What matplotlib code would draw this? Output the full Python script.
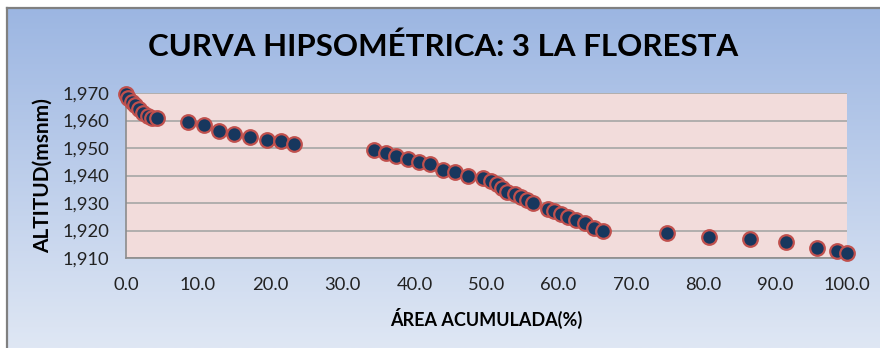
import numpy as np
import matplotlib
matplotlib.use("Agg")
import matplotlib.pyplot as plt
from matplotlib.lines import Line2D
from matplotlib.ticker import FuncFormatter, MultipleLocator

plt.rcParams['font.family'] = ['Lato', 'DejaVu Sans']

# area acumulada (%) y altitud (msnm) de la curva hipsometrica
area = [0.0, 0.3, 0.8, 1.25, 1.85, 2.4, 3.1, 3.6, 4.3,
        8.65, 10.8, 12.95, 15.0, 17.2, 19.6, 21.5, 23.3,
        34.4, 36.0, 37.5, 39.1, 40.6, 42.1, 43.9, 45.7, 47.4,
        49.5, 50.6, 51.4, 52.2, 52.9, 53.9, 54.8, 55.6, 56.5,
        58.5, 59.4, 60.4, 61.3, 62.4, 63.7, 64.9, 66.1,
        75.1, 80.9, 86.5, 91.6, 95.9, 98.6, 100.0]
altitud = [1969.6, 1968.1, 1966.8, 1965.6, 1964.1, 1962.6, 1961.6, 1961.0, 1960.8,
           1959.6, 1958.4, 1956.2, 1955.0, 1954.0, 1953.0, 1952.4, 1951.3,
           1949.3, 1948.1, 1947.1, 1946.0, 1944.8, 1944.1, 1942.0, 1941.1, 1939.9,
           1939.1, 1938.0, 1937.0, 1935.3, 1934.1, 1933.2, 1932.1, 1931.2, 1930.1,
           1927.9, 1927.0, 1926.1, 1924.9, 1923.8, 1922.7, 1920.9, 1919.8,
           1919.0, 1917.8, 1916.9, 1916.0, 1913.7, 1912.7, 1911.7]

titulo = "CURVA HIPSOMÉTRICA: 3 LA FLORESTA"

W, H = 880, 348
fig = plt.figure(figsize=(W / 100, H / 100), dpi=100)
fig.patch.set_facecolor('white')

# fondo degradado del area del grafico
bg = fig.add_axes([0, 0, 1, 1], zorder=-2)
bg.set_xlim(0, 1)
bg.set_ylim(0, 1)
bg.axis('off')
top = np.array([0x9c, 0xb6, 0xe2]) / 255
bot = np.array([0xdf, 0xe7, 0xf4]) / 255
t = np.linspace(0, 1, 256)[:, None]
grad = (top * (1 - t) + bot * t)[:, None, :]
bg.imshow(grad, extent=[7 / W, 1, 0, 340 / H], aspect='auto', origin='upper')
bg.add_line(Line2D([7 / W, 1], [340 / H, 340 / H], color='#808080', lw=1.6))
bg.add_line(Line2D([7 / W, 7 / W], [0, 340 / H], color='#808080', lw=1.6))

fig.text(443 / W, 1 - 47 / H, titulo, ha='center', va='center',
         fontsize=22.5, fontweight='bold', color='black')

ax = fig.add_axes([126 / W, 90 / H, 721 / W, 165 / H])
ax.set_facecolor('#f2dcdb')
ax.set_xlim(0, 100)
ax.set_ylim(1910, 1970)
ax.xaxis.set_major_locator(MultipleLocator(10))
ax.yaxis.set_major_locator(MultipleLocator(10))
ax.xaxis.set_major_formatter(FuncFormatter(lambda v, p: f"{v:.1f}"))
ax.yaxis.set_major_formatter(FuncFormatter(lambda v, p: f"{v:,.0f}"))
ax.grid(axis='y', color='#a6a6a6', lw=1.2)
ax.set_axisbelow(True)
for s in ['top', 'right']:
    ax.spines[s].set_visible(False)
for s in ['left', 'bottom']:
    ax.spines[s].set_color('#8c8c8c')
    ax.spines[s].set_linewidth(1.2)
ax.tick_params(length=0, labelsize=13.2, colors='#222222')
ax.tick_params(axis='y', pad=12)
ax.tick_params(axis='x', pad=14)

ax.plot(area, altitud, 'o', ms=10.5, mfc='#17375e', mec='#c0504d', mew=1.6,
        clip_on=False, zorder=3)

ax.set_xlabel("ÁREA ACUMULADA(%)", fontsize=13, fontweight='bold')
ax.set_ylabel("ALTITUD(msnm)", fontsize=15, fontweight='bold')
ax.xaxis.set_label_coords(0.5, -0.30)
ax.yaxis.set_label_coords(-0.101, 0.5)

fig.savefig("out.png", dpi=100)
